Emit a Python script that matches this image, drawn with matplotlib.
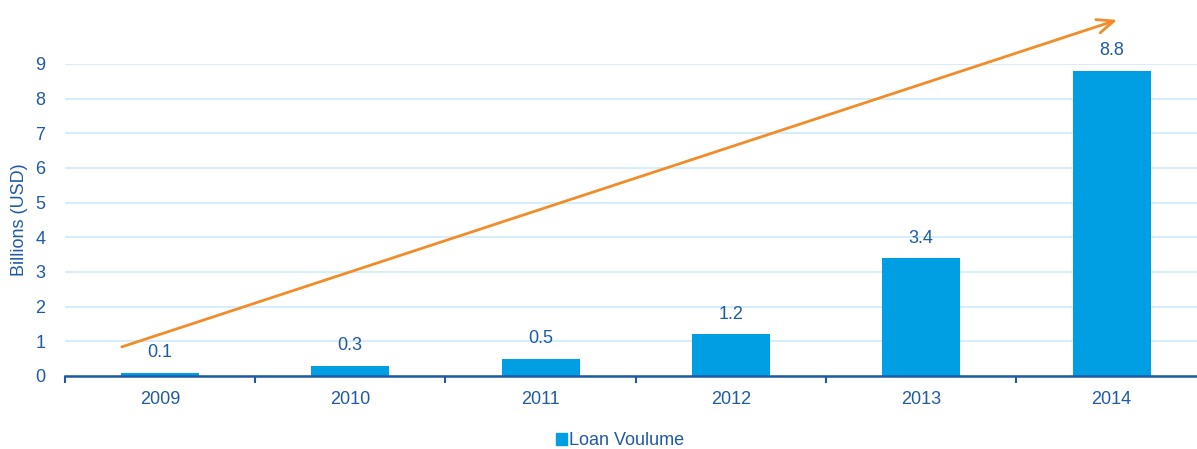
import numpy as np
import matplotlib
matplotlib.use("Agg")
import matplotlib.pyplot as plt
from matplotlib.patches import Patch

plt.rcParams['font.family'] = ['Liberation Sans', 'DejaVu Sans']

years = ['2009', '2010', '2011', '2012', '2013', '2014']
loan_volume = [0.1, 0.3, 0.5, 1.2, 3.4, 8.8]
trend_start = (-0.2, 0.84)
trend_end = (5.03, 10.27)

text_col = '#1F5AA6'
bar_col = '#009FE3'
grid_col = '#CDEBF8'
arrow_col = '#F28C28'

fig = plt.figure(figsize=(11.97, 4.49), dpi=100)
# plot area runs a little past the right edge of the picture
ax = fig.add_axes([0.0541, 0.1626, 0.954, 0.695])

x = np.arange(len(years))
bars = ax.bar(x, loan_volume, width=0.41, color=bar_col, zorder=3)
for xi, v in zip(x, loan_volume):
    ax.text(xi, v + 0.33, f'{v:.1f}', ha='center', va='bottom', color=text_col, fontsize=13)

ax.set_xlim(-0.5, len(years) - 0.5)
ax.set_ylim(0, 9)
ax.set_yticks(range(0, 10))
ax.yaxis.grid(True, color=grid_col, linewidth=1.2, zorder=0)
ax.set_axisbelow(True)

ax.set_xticks(x)
ax.set_xticklabels(years)
ax.set_xticks(np.arange(-0.5, len(years)), minor=True)
ax.tick_params(axis='x', which='major', length=0, pad=11, labelsize=13, labelcolor=text_col)
ax.tick_params(axis='x', which='minor', length=5, width=1.5, color=text_col, direction='out')
ax.tick_params(axis='y', length=0, pad=14, labelsize=13, labelcolor=text_col)

for s in ['top', 'right', 'left']:
    ax.spines[s].set_visible(False)
ax.spines['bottom'].set_color(text_col)
ax.spines['bottom'].set_linewidth(1.8)
ax.spines['bottom'].set_zorder(4)

ax.set_ylabel('Billions (USD)', color=text_col, fontsize=13, labelpad=5)

ax.annotate('', xy=trend_end, xytext=trend_start, annotation_clip=False,
            arrowprops=dict(arrowstyle='->,head_length=1.2,head_width=0.5',
                            color=arrow_col, lw=2, shrinkA=0, shrinkB=0))

fig.legend(handles=[Patch(color=bar_col, label='Loan Voulume')], loc='center',
           bbox_to_anchor=(0.518, 0.018), frameon=False, fontsize=13,
           handlelength=0.6, handleheight=0.6, handletextpad=0.15,
           labelcolor=text_col)

fig.savefig('out.png', dpi=100)
